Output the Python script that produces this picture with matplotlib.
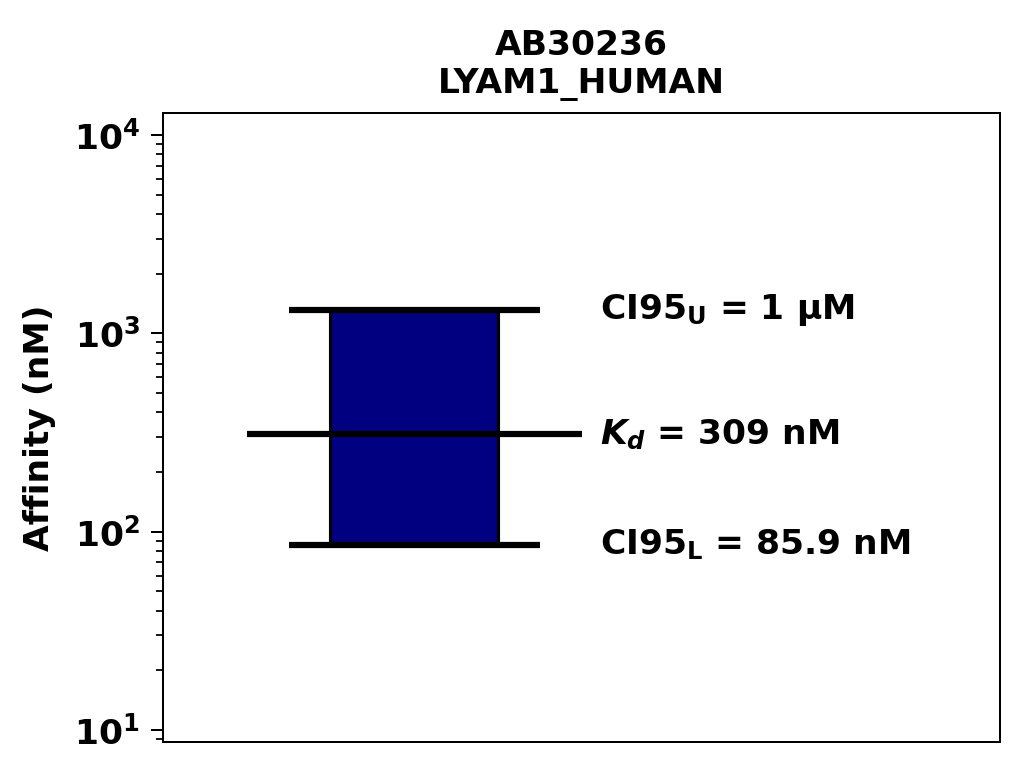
import numpy as np
import matplotlib
matplotlib.use('Agg')
import matplotlib.pyplot as plt

# affinity values (nM)
kd = 309
ci_lower = 85.9
ci_upper = 1310
title_lines = ['AB30236', 'LYAM1_HUMAN']
label_upper = 'CI95$_\\mathregular{U}$ = 1 µM'
label_kd = '$\\mathit{K_d}$ = 309 nM'
label_lower = 'CI95$_\\mathregular{L}$ = 85.9 nM'

plt.rcParams['font.family'] = 'DejaVu Sans'
plt.rcParams['font.weight'] = 'bold'
plt.rcParams['mathtext.fontset'] = 'dejavusans'
plt.rcParams['mathtext.default'] = 'bf'

fig = plt.figure(figsize=(6.4, 775/160), dpi=160)
ax = fig.add_axes([163/1024, 1-742/775, 837/1024, 629/775])

ax.bar(0.3, ci_upper - ci_lower, bottom=ci_lower, width=0.2, color='#000080', edgecolor='black', linewidth=1.4)
ax.hlines([ci_lower, ci_upper], 0.15, 0.45, colors='black', linewidth=2.8)
ax.hlines(kd, 0.1, 0.5, colors='black', linewidth=2.8)

ax.set_yscale('log')
ax.set_xlim(0, 1)
ax.set_ylim(8.7, 12900)
ax.set_xticks([])

ax.text(0.522, ci_upper, label_upper, fontsize=15.5, fontweight='bold', va='center')
ax.text(0.522, kd, label_kd, fontsize=15.5, fontweight='bold', va='center')
ax.text(0.522, ci_lower, label_lower, fontsize=15.5, fontweight='bold', va='center')

ax.set_title('\n'.join(title_lines), fontsize=15.5, fontweight='bold', pad=9)
ax.set_ylabel('Affinity (nM)', fontsize=15.5, fontweight='bold', labelpad=8)
ax.tick_params(axis='y', which='major', labelsize=15.5, length=5.5, width=0.9, pad=5)
ax.tick_params(axis='y', which='minor', length=3, width=0.8)
for lab in ax.get_yticklabels():
    lab.set_fontweight('bold')
for s in ax.spines.values():
    s.set_linewidth(0.9)

fig.savefig('out.png', dpi=160)
